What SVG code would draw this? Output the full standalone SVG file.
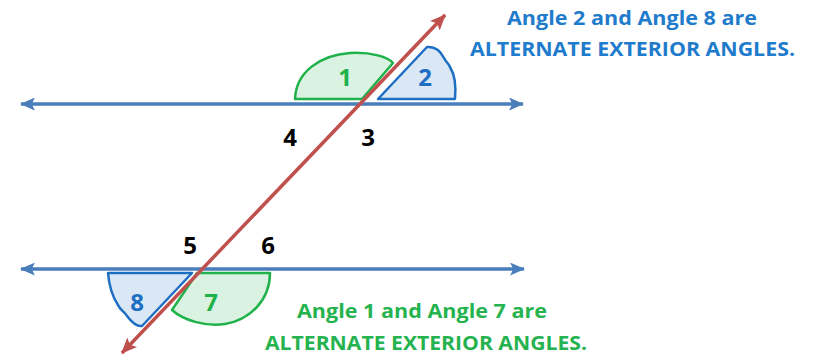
<svg xmlns="http://www.w3.org/2000/svg" width="817" height="357" viewBox="0 0 817 357">
<style>
.ln{stroke:#4a7ebb;stroke-width:3.5;fill:none}
.tr{stroke:#c0504d;stroke-width:3.5;fill:none}
.gA{fill:#d9f2e1;stroke:#1fb14a;stroke-width:2.5;stroke-linejoin:round}
.bA{fill:#dae7f5;stroke:#1e6fc3;stroke-width:2.5;stroke-linejoin:round}
.num{font-family:"Open Sans","Liberation Sans",sans-serif;font-weight:bold;font-size:24px;text-anchor:middle}
.note{font-family:"Open Sans","Liberation Sans",sans-serif;font-weight:bold;font-size:20px}
</style>
<defs>
<marker id="ab" viewBox="0 0 14 12" refX="13" refY="6" markerWidth="15" markerHeight="13" markerUnits="userSpaceOnUse" orient="auto-start-reverse"><path d="M0,0 L14,6 L0,12 L3,6 Z" fill="#4a7ebb"/></marker>
<marker id="ar" viewBox="0 0 14 12" refX="13" refY="6" markerWidth="16" markerHeight="14" markerUnits="userSpaceOnUse" orient="auto-start-reverse"><path d="M0,0 L14,6 L0,12 L3,6 Z" fill="#c0504d"/></marker>
</defs>
<g id="angle1"><path class="gA" d="M295,99 C296,72 320,55 350,53 C372,52 388,57 393,63 L362,99 Z"/><text class="num" x="345" y="86" fill="#1fb14a">1</text></g>
<g id="angle2"><path class="bA" d="M378,99 L427,47 C436,46 441,52 444,58 C446,62 449,64 450,67 C455,75 456,88 455,99 Z"/><text class="num" x="425" y="86" fill="#1e6fc3">2</text></g>
<g id="angle8"><path class="bA" d="M108,273 L192,273 L142,326 C136,327 130,320 127,316 C125,312 120,310 118,305 C112,296 109,285 108,273 Z"/><text class="num" x="137" y="311" fill="#1e6fc3">8</text></g>
<g id="angle7"><path class="gA" d="M197,273 L270,273 C270,300 250,320 225,324 C205,327 183,320 172,310 Z"/><text class="num" x="211" y="311" fill="#1fb14a">7</text></g>
<g id="connectors">
<line class="ln" x1="21" y1="104" x2="523" y2="104" marker-start="url(#ab)" marker-end="url(#ab)"/>
<line class="ln" x1="21" y1="269" x2="524" y2="269" marker-start="url(#ab)" marker-end="url(#ab)"/>
<line class="tr" x1="445" y1="15" x2="122" y2="353" marker-start="url(#ar)" marker-end="url(#ar)"/>
</g>
<g id="labels">
<text class="num" x="290" y="146" fill="#000">4</text>
<text class="num" x="368" y="146" fill="#000">3</text>
<text class="num" x="190" y="254" fill="#000">5</text>
<text class="num" x="268" y="254" fill="#000">6</text>
</g>
<g id="note-blue" fill="#1f7bcb">
<text class="note" x="507" y="25" textLength="250" lengthAdjust="spacingAndGlyphs">Angle 2 and Angle 8 are</text>
<text class="note" x="470" y="56" textLength="325" lengthAdjust="spacingAndGlyphs">ALTERNATE EXTERIOR ANGLES.</text>
</g>
<g id="note-green" fill="#25b34f">
<text class="note" x="297" y="318" textLength="250" lengthAdjust="spacingAndGlyphs">Angle 1 and Angle 7 are</text>
<text class="note" x="265" y="350" textLength="322" lengthAdjust="spacingAndGlyphs" style="font-size:19px">ALTERNATE EXTERIOR ANGLES.</text>
</g>
</svg>
